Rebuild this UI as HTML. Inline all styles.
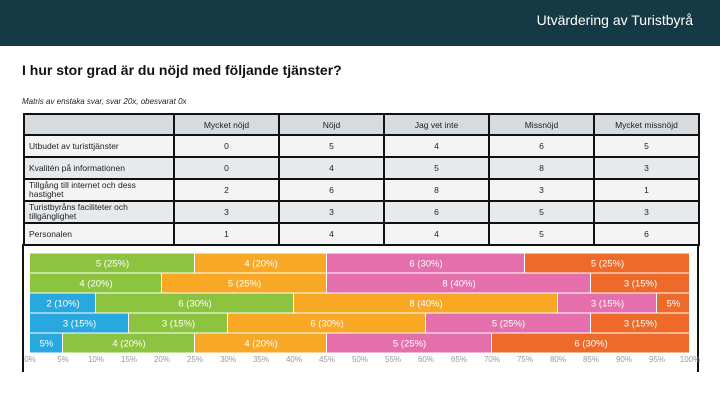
<!DOCTYPE html>
<html><head><meta charset="utf-8"><style>
body{margin:0;width:720px;height:405px;background:#fff;font-family:"Liberation Sans",sans-serif;position:relative;overflow:hidden}
.hdr{position:absolute;left:0;top:0;width:720px;height:46px;background:#163a45}
.hdr span{position:absolute;right:27px;top:12px;color:#fff;font-size:14px}
h1{position:absolute;left:22px;top:62px;margin:0;font-size:14px;font-weight:bold;color:#111}
.sub{position:absolute;left:22px;top:97px;font-size:8px;font-style:italic;color:#222}
table{position:absolute;left:23px;top:113px;border-collapse:collapse;font-size:8.5px;color:#222;table-layout:fixed}
td{border:2px solid #111;text-align:center;padding:0;height:19px}
td.l{text-align:left;padding-left:4px;line-height:9px}
tr.h td{background:#d6dbdf}
tr.a td{background:#f4f4f4}
tr.b td{background:#e7eaec}
</style></head><body>
<div class="hdr"><span>Utvärdering av Turistbyrå</span></div>
<h1>I hur stor grad är du nöjd med följande tjänster?</h1>
<div class="sub">Matris av enstaka svar, svar 20x, obesvarat 0x</div>
<table>
<colgroup><col style="width:150px"><col style="width:105px"><col style="width:105px"><col style="width:105px"><col style="width:105px"><col style="width:105px"></colgroup>
<tr class="h" style="height:20px"><td></td><td>Mycket nöjd</td><td>Nöjd</td><td>Jag vet inte</td><td>Missnöjd</td><td>Mycket missnöjd</td></tr>
<tr class="a" style="height:22px"><td class="l">Utbudet av turisttjänster</td><td>0</td><td>5</td><td>4</td><td>6</td><td>5</td></tr>
<tr class="b" style="height:22px"><td class="l">Kvalitén på informationen</td><td>0</td><td>4</td><td>5</td><td>8</td><td>3</td></tr>
<tr class="a" style="height:22px"><td class="l">Tillgång till internet och dess<br>hastighet</td><td>2</td><td>6</td><td>8</td><td>3</td><td>1</td></tr>
<tr class="b" style="height:22px"><td class="l">Turistbyråns faciliteter och<br>tillgänglighet</td><td>3</td><td>3</td><td>6</td><td>5</td><td>3</td></tr>
<tr class="a" style="height:22px"><td class="l">Personalen</td><td>1</td><td>4</td><td>4</td><td>5</td><td>6</td></tr>
</table>
<svg id="chart" width="720" height="405" style="position:absolute;left:0;top:0"></svg>
<script>
const categories=["Utbudet av turisttjänster","Kvalitén på informationen","Tillgång till internet och dess hastighet","Turistbyråns faciliteter och tillgänglighet","Personalen"];
const seriesNames=["Mycket nöjd","Nöjd","Jag vet inte","Missnöjd","Mycket missnöjd"];
const mycketNojd=[0,0,2,3,1];
const nojd=[5,4,6,3,4];
const vetInte=[4,5,8,6,4];
const missnojd=[6,8,3,5,5];
const mycketMissnojd=[5,3,1,3,6];
const tickLabels=["0%","5%","10%","15%","20%","25%","30%","35%","40%","45%","50%","55%","60%","65%","70%","75%","80%","85%","90%","95%","100%"];
const colors=["#29a8e0","#8cc43f","#f9a825","#e56eac","#ee6a2a"];
const series=[mycketNojd,nojd,vetInte,missnojd,mycketMissnojd];
const svg=document.getElementById('chart');const NS="http://www.w3.org/2000/svg";
const x=p=>30+p*6.6;const y=i=>253.5+i*20;
function mk(t,a){const e=document.createElementNS(NS,t);for(const k in a)e.setAttribute(k,a[k]);svg.appendChild(e);return e;}
let fr=mk('path',{d:'M23 244 V372 M698 244 V372',stroke:'#111','stroke-width':2,fill:'none'});


tickLabels.forEach((t,k)=>{const tx=mk('text',{x:x(k*5),y:362,'font-size':8,fill:'#999','text-anchor':'middle'});tx.textContent=t;

});
categories.forEach((c,i)=>{const tot=series.reduce((s,a)=>s+a[i],0);let acc=0;
series.forEach((a,j)=>{const v=a[i];if(!v)return;const p0=acc/tot*100,p1=(acc+v)/tot*100;acc+=v;
const r=mk('rect',{x:x(p0),y:y(i),width:x(p1)-x(p0)-1,height:19,fill:colors[j]});


const pct=Math.round(v/tot*100);
const t=mk('text',{x:(x(p0)+x(p1))/2,y:y(i)+13,'font-size':9.5,fill:'#fff','text-anchor':'middle'});
t.textContent=(p1-p0<8)?pct+'%':v+' ('+pct+'%)';

});});
</script>
</body></html>
